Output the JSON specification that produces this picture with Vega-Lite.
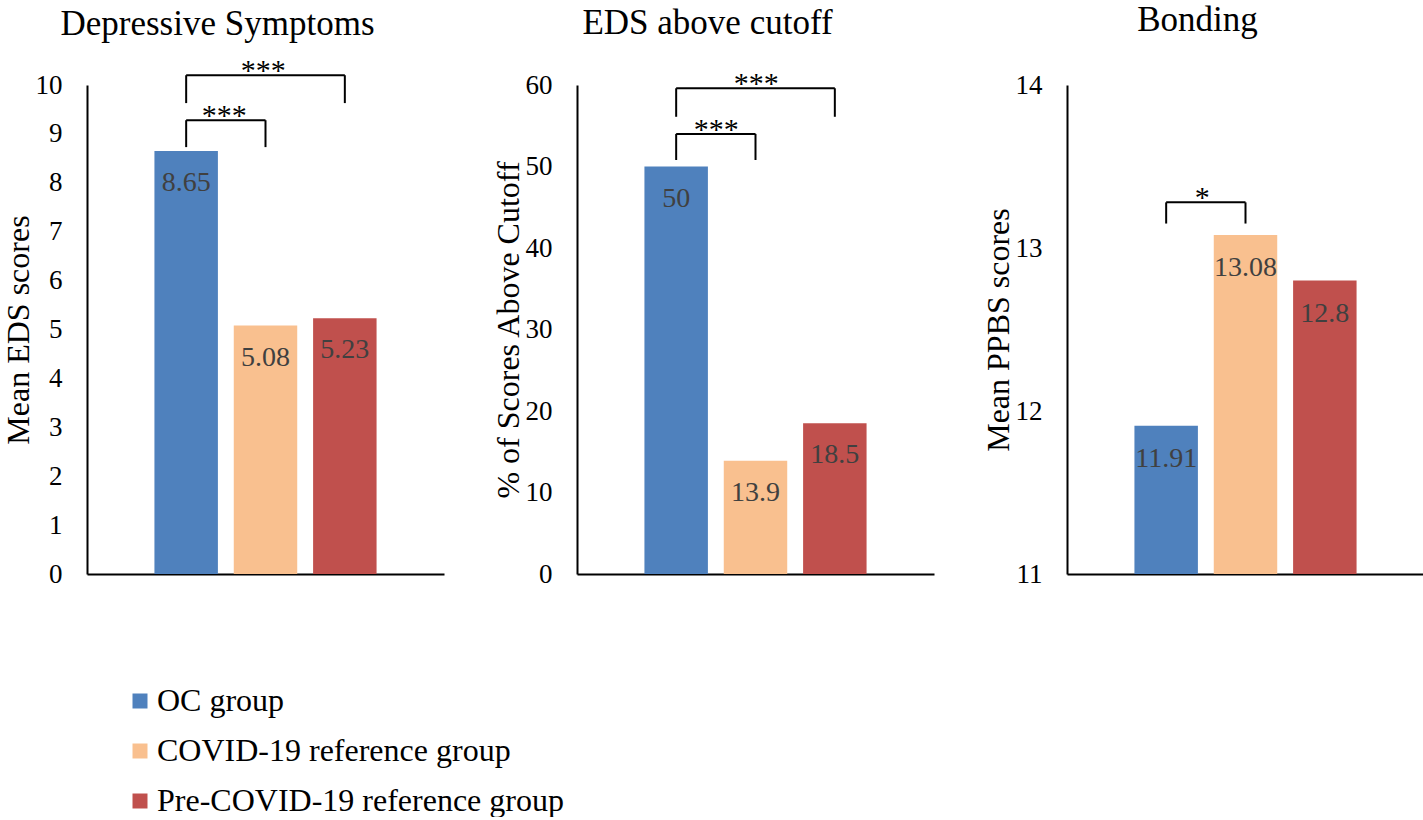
{
  "$schema": "https://vega.github.io/schema/vega-lite/v6.json",
  "padding": {"top": 3, "left": 2, "right": 0, "bottom": 0},
  "background": "white",
  "bounds": "flush",
  "spacing": 133,
  "config": {
    "font": "Liberation Serif",
    "view": {"stroke": null},
    "text": {"font": "Liberation Serif"},
    "axis": {"labelFont": "Liberation Serif", "titleFont": "Liberation Serif", "labelFontSize": 27, "titleFontSize": 32, "titleFontWeight": "normal", "labelColor": "black", "titleColor": "black", "domainColor": "black", "domainWidth": 2, "ticks": false, "grid": false, "labelPadding": 25, "titlePadding": 0},
    "title": {"font": "Liberation Serif", "fontSize": 35, "fontWeight": "normal", "color": "black", "anchor": "middle", "frame": "group", "dx": -48},
    "legend": {"orient": "none", "legendX": 37, "legendY": 600, "padding": 0, "title": null, "symbolType": "square", "symbolSize": 225, "symbolStrokeWidth": 0, "labelFont": "Liberation Serif", "labelFontSize": 32, "labelColor": "black", "labelOffset": 1, "rowPadding": 18, "labelLimit": 700}
  },
  "datasets": {
    "bars": [
      {"panel": "Depressive Symptoms", "group": "OC group", "value": 8.65, "label": "8.65"},
      {"panel": "Depressive Symptoms", "group": "COVID-19 reference group", "value": 5.08, "label": "5.08"},
      {"panel": "Depressive Symptoms", "group": "Pre-COVID-19 reference group", "value": 5.23, "label": "5.23"},
      {"panel": "EDS above cutoff", "group": "OC group", "value": 50, "label": "50"},
      {"panel": "EDS above cutoff", "group": "COVID-19 reference group", "value": 13.9, "label": "13.9"},
      {"panel": "EDS above cutoff", "group": "Pre-COVID-19 reference group", "value": 18.5, "label": "18.5"},
      {"panel": "Bonding", "group": "OC group", "value": 11.91, "label": "11.91"},
      {"panel": "Bonding", "group": "COVID-19 reference group", "value": 13.08, "label": "13.08"},
      {"panel": "Bonding", "group": "Pre-COVID-19 reference group", "value": 12.8, "label": "12.8"}
    ],
    "brackets": [
      {"panel": "Depressive Symptoms", "from": "OC group", "to": "COVID-19 reference group", "low": 8.73, "high": 9.28, "stars": "***", "span": "near"},
      {"panel": "Depressive Symptoms", "from": "OC group", "to": "Pre-COVID-19 reference group", "low": 9.63, "high": 10.2, "stars": "***", "span": "far"},
      {"panel": "EDS above cutoff", "from": "OC group", "to": "COVID-19 reference group", "low": 50.8, "high": 54.0, "stars": "***", "span": "near"},
      {"panel": "EDS above cutoff", "from": "OC group", "to": "Pre-COVID-19 reference group", "low": 56.1, "high": 59.6, "stars": "***", "span": "far"},
      {"panel": "Bonding", "from": "OC group", "to": "COVID-19 reference group", "low": 13.15, "high": 13.28, "stars": "*", "span": "near"}
    ]
  },
  "resolve": {"scale": {"color": "shared"}, "legend": {"color": "shared"}},
  "hconcat": [
    {
      "width": 357, "height": 489,
      "title": {"text": "Depressive Symptoms", "offset": 14},
      "layer": [
        {"data": {"name": "bars"}, "transform": [{"filter": "datum.panel === 'Depressive Symptoms'"}],
         "mark": {"type": "bar"},
         "encoding": {
           "x": {"field": "group", "type": "nominal", "title": null, "scale": {"domain": ["OC group", "COVID-19 reference group", "Pre-COVID-19 reference group"], "paddingInner": 0.2, "paddingOuter": 0.85}, "axis": {"labels": false}},
           "y": {"field": "value", "type": "quantitative", "title": "Mean EDS scores", "scale": {"domain": [0, 10]}, "axis": {"values": [0,1,2,3,4,5,6,7,8,9,10], "format": "d"}},
           "color": {"field": "group", "type": "nominal", "scale": {"domain": ["OC group", "COVID-19 reference group", "Pre-COVID-19 reference group"], "range": ["#4F81BD", "#F9C08F", "#C0504D"]}}
         }},
        {"data": {"name": "bars"}, "transform": [{"filter": "datum.panel === 'Depressive Symptoms'"}],
         "mark": {"type": "text", "font": "Liberation Serif", "fontSize": 28, "color": "#404040", "baseline": "middle", "dy": 32},
         "encoding": {
           "x": {"field": "group", "type": "nominal", "title": null},
           "y": {"field": "value", "type": "quantitative", "title": "Mean EDS scores"},
           "text": {"field": "label"}
         }},
        {"data": {"name": "brackets"}, "transform": [{"filter": "datum.panel === 'Depressive Symptoms'"}],
         "mark": {"type": "rule", "color": "black", "strokeWidth": 2},
         "encoding": {"x": {"field": "from", "type": "nominal", "title": null}, "y": {"field": "low", "type": "quantitative", "title": "Mean EDS scores"}, "y2": {"field": "high"}}},
        {"data": {"name": "brackets"}, "transform": [{"filter": "datum.panel === 'Depressive Symptoms'"}],
         "mark": {"type": "rule", "color": "black", "strokeWidth": 2},
         "encoding": {"x": {"field": "to", "type": "nominal", "title": null}, "y": {"field": "low", "type": "quantitative", "title": "Mean EDS scores"}, "y2": {"field": "high"}}},
        {"data": {"name": "brackets"}, "transform": [{"filter": "datum.panel === 'Depressive Symptoms'"}],
         "mark": {"type": "rule", "color": "black", "strokeWidth": 2},
         "encoding": {"x": {"field": "from", "type": "nominal", "title": null}, "x2": {"field": "to"}, "y": {"field": "high", "type": "quantitative", "title": "Mean EDS scores"}}},
        {"data": {"name": "brackets"}, "transform": [{"filter": "datum.panel === 'Depressive Symptoms' && datum.span === 'near'"}],
         "mark": {"type": "text", "font": "Liberation Serif", "fontSize": 30, "color": "black", "baseline": "alphabetic", "align": "center", "dx": 38, "dy": 5},
         "encoding": {"x": {"field": "from", "type": "nominal", "title": null}, "y": {"field": "high", "type": "quantitative", "title": "Mean EDS scores"}, "text": {"field": "stars"}}},
        {"data": {"name": "brackets"}, "transform": [{"filter": "datum.panel === 'Depressive Symptoms' && datum.span === 'far'"}],
         "mark": {"type": "text", "font": "Liberation Serif", "fontSize": 30, "color": "black", "baseline": "alphabetic", "align": "center", "dx": 77, "dy": 5},
         "encoding": {"x": {"field": "from", "type": "nominal", "title": null}, "y": {"field": "high", "type": "quantitative", "title": "Mean EDS scores"}, "text": {"field": "stars"}}}
      ]
    },
    {
      "width": 357, "height": 489,
      "title": {"text": "EDS above cutoff", "offset": 28},
      "layer": [
        {"data": {"name": "bars"}, "transform": [{"filter": "datum.panel === 'EDS above cutoff'"}],
         "mark": {"type": "bar"},
         "encoding": {
           "x": {"field": "group", "type": "nominal", "title": null, "scale": {"domain": ["OC group", "COVID-19 reference group", "Pre-COVID-19 reference group"], "paddingInner": 0.2, "paddingOuter": 0.85}, "axis": {"labels": false}},
           "y": {"field": "value", "type": "quantitative", "title": "% of Scores Above Cutoff", "scale": {"domain": [0, 60]}, "axis": {"values": [0,10,20,30,40,50,60], "format": "d"}},
           "color": {"field": "group", "type": "nominal", "scale": {"domain": ["OC group", "COVID-19 reference group", "Pre-COVID-19 reference group"], "range": ["#4F81BD", "#F9C08F", "#C0504D"]}}
         }},
        {"data": {"name": "bars"}, "transform": [{"filter": "datum.panel === 'EDS above cutoff'"}],
         "mark": {"type": "text", "font": "Liberation Serif", "fontSize": 28, "color": "#404040", "baseline": "middle", "dy": 32},
         "encoding": {
           "x": {"field": "group", "type": "nominal", "title": null},
           "y": {"field": "value", "type": "quantitative", "title": "% of Scores Above Cutoff"},
           "text": {"field": "label"}
         }},
        {"data": {"name": "brackets"}, "transform": [{"filter": "datum.panel === 'EDS above cutoff'"}],
         "mark": {"type": "rule", "color": "black", "strokeWidth": 2},
         "encoding": {"x": {"field": "from", "type": "nominal", "title": null}, "y": {"field": "low", "type": "quantitative", "title": "% of Scores Above Cutoff"}, "y2": {"field": "high"}}},
        {"data": {"name": "brackets"}, "transform": [{"filter": "datum.panel === 'EDS above cutoff'"}],
         "mark": {"type": "rule", "color": "black", "strokeWidth": 2},
         "encoding": {"x": {"field": "to", "type": "nominal", "title": null}, "y": {"field": "low", "type": "quantitative", "title": "% of Scores Above Cutoff"}, "y2": {"field": "high"}}},
        {"data": {"name": "brackets"}, "transform": [{"filter": "datum.panel === 'EDS above cutoff'"}],
         "mark": {"type": "rule", "color": "black", "strokeWidth": 2},
         "encoding": {"x": {"field": "from", "type": "nominal", "title": null}, "x2": {"field": "to"}, "y": {"field": "high", "type": "quantitative", "title": "% of Scores Above Cutoff"}}},
        {"data": {"name": "brackets"}, "transform": [{"filter": "datum.panel === 'EDS above cutoff' && datum.span === 'near'"}],
         "mark": {"type": "text", "font": "Liberation Serif", "fontSize": 30, "color": "black", "baseline": "alphabetic", "align": "center", "dx": 40, "dy": 5},
         "encoding": {"x": {"field": "from", "type": "nominal", "title": null}, "y": {"field": "high", "type": "quantitative", "title": "% of Scores Above Cutoff"}, "text": {"field": "stars"}}},
        {"data": {"name": "brackets"}, "transform": [{"filter": "datum.panel === 'EDS above cutoff' && datum.span === 'far'"}],
         "mark": {"type": "text", "font": "Liberation Serif", "fontSize": 30, "color": "black", "baseline": "alphabetic", "align": "center", "dx": 80, "dy": 5},
         "encoding": {"x": {"field": "from", "type": "nominal", "title": null}, "y": {"field": "high", "type": "quantitative", "title": "% of Scores Above Cutoff"}, "text": {"field": "stars"}}}
      ]
    },
    {
      "width": 357, "height": 489,
      "title": {"text": "Bonding", "offset": 33},
      "layer": [
        {"data": {"name": "bars"}, "transform": [{"filter": "datum.panel === 'Bonding'"}],
         "mark": {"type": "bar", "clip": true},
         "encoding": {
           "x": {"field": "group", "type": "nominal", "title": null, "scale": {"domain": ["OC group", "COVID-19 reference group", "Pre-COVID-19 reference group"], "paddingInner": 0.2, "paddingOuter": 0.85}, "axis": {"labels": false}},
           "y": {"field": "value", "type": "quantitative", "title": "Mean PPBS scores", "scale": {"domain": [11, 14], "zero": false}, "axis": {"values": [11,12,13,14], "format": "d"}},
           "color": {"field": "group", "type": "nominal", "scale": {"domain": ["OC group", "COVID-19 reference group", "Pre-COVID-19 reference group"], "range": ["#4F81BD", "#F9C08F", "#C0504D"]}}
         }},
        {"data": {"name": "bars"}, "transform": [{"filter": "datum.panel === 'Bonding'"}],
         "mark": {"type": "text", "font": "Liberation Serif", "fontSize": 28, "color": "#404040", "baseline": "middle", "dy": 33},
         "encoding": {
           "x": {"field": "group", "type": "nominal", "title": null},
           "y": {"field": "value", "type": "quantitative", "title": "Mean PPBS scores"},
           "text": {"field": "label"}
         }},
        {"data": {"name": "brackets"}, "transform": [{"filter": "datum.panel === 'Bonding'"}],
         "mark": {"type": "rule", "color": "black", "strokeWidth": 2},
         "encoding": {"x": {"field": "from", "type": "nominal", "title": null}, "y": {"field": "low", "type": "quantitative", "title": "Mean PPBS scores"}, "y2": {"field": "high"}}},
        {"data": {"name": "brackets"}, "transform": [{"filter": "datum.panel === 'Bonding'"}],
         "mark": {"type": "rule", "color": "black", "strokeWidth": 2},
         "encoding": {"x": {"field": "to", "type": "nominal", "title": null}, "y": {"field": "low", "type": "quantitative", "title": "Mean PPBS scores"}, "y2": {"field": "high"}}},
        {"data": {"name": "brackets"}, "transform": [{"filter": "datum.panel === 'Bonding'"}],
         "mark": {"type": "rule", "color": "black", "strokeWidth": 2},
         "encoding": {"x": {"field": "from", "type": "nominal", "title": null}, "x2": {"field": "to"}, "y": {"field": "high", "type": "quantitative", "title": "Mean PPBS scores"}}},
        {"data": {"name": "brackets"}, "transform": [{"filter": "datum.panel === 'Bonding' && datum.span === 'near'"}],
         "mark": {"type": "text", "font": "Liberation Serif", "fontSize": 30, "color": "black", "baseline": "alphabetic", "align": "center", "dx": 36, "dy": 5},
         "encoding": {"x": {"field": "from", "type": "nominal", "title": null}, "y": {"field": "high", "type": "quantitative", "title": "Mean PPBS scores"}, "text": {"field": "stars"}}}
      ]
    }
  ]
}
